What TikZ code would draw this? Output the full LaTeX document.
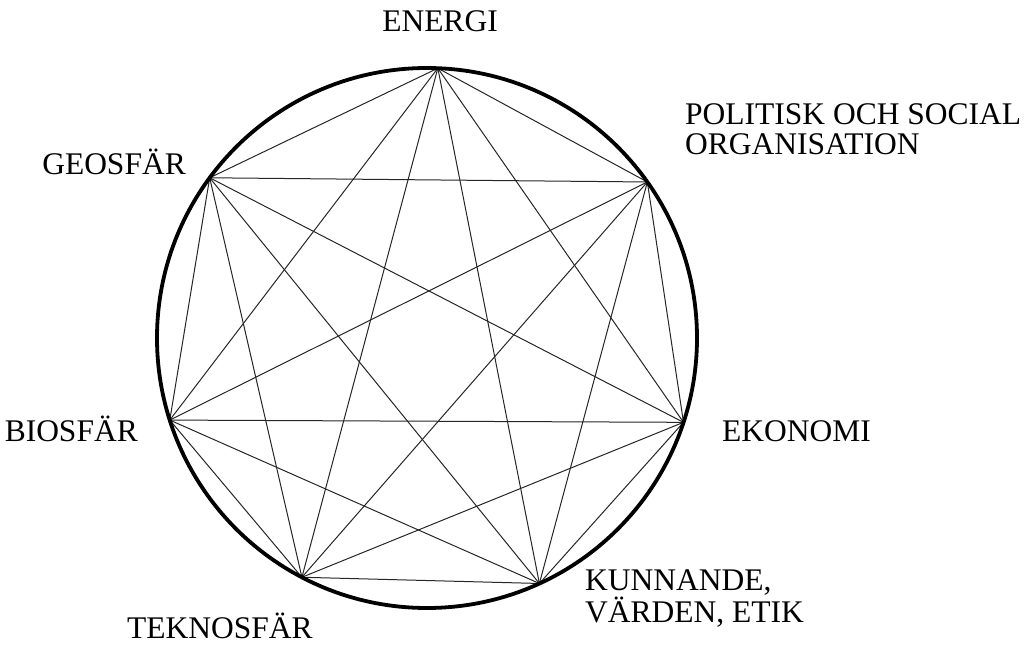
\documentclass[tikz,border=0pt]{standalone}
\usepackage{fontspec}
\setmainfont{Liberation Serif}
\usepackage{tikz}
\usetikzlibrary{positioning}

\begin{document}
\begin{tikzpicture}[
    x=1pt, y=1pt,
    ring/.style={line width=3.8pt},
    chord/.style={line width=1pt, black!85},
    lbl/.style={font=\fontsize{31.5}{30}\selectfont, inner sep=0pt, align=left}
]
\useasboundingbox (0,0) rectangle (1026,654);
\coordinate (ctr) at (427,316);

% the seven spheres on the ring
\foreach \i/\a in {1/87.7, 2/35.3, 3/-18.2, 4/-65.4, 5/-117.6, 6/197.7, 7/143.6}
  \coordinate (v\i) at ([shift={(\a:270)}]ctr);

% every sphere linked to every other
\foreach \i in {1,...,6} {
  \pgfmathtruncatemacro\k{\i+1}
  \foreach \j in {\k,...,7}
    \draw[chord] (v\i) -- (v\j);
}
\draw[ring] (ctr) circle (270);

\node[lbl, anchor=base] (energi) at (440,622) {ENERGI};
\node[lbl, anchor=base west] (polit) at (685,499) {POLITISK OCH SOCIAL\\ORGANISATION};
\node[lbl, anchor=base west] (ekon) at (722,212) {EKONOMI};
\node[lbl, anchor=base west] (kunn) at (585,32) {KUNNANDE,\\VÄRDEN, ETIK};
\node[lbl, anchor=base] (tekn) at (220,16) {TEKNOSFÄR};
\node[lbl, anchor=base east] (bio) at (138,212) {BIOSFÄR};
\node[lbl, anchor=base east] (geo) at (186,479) {GEOSFÄR};
\end{tikzpicture}
\end{document}
